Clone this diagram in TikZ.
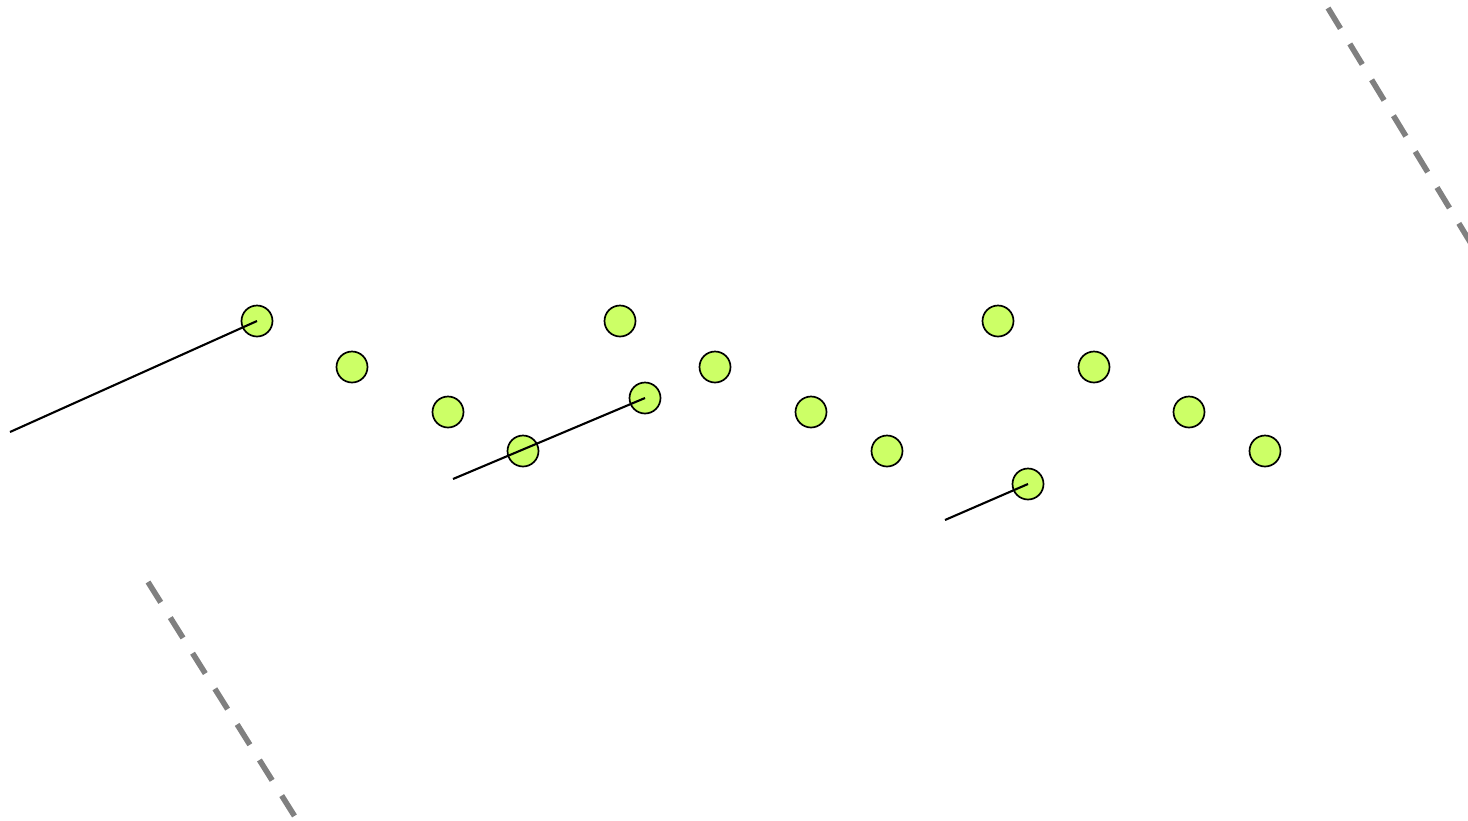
\documentclass[tikz,border=0pt]{standalone}
\definecolor{dotfill}{RGB}{204,255,102}
\definecolor{dashgray}{RGB}{128,128,128}
\begin{document}
\begin{tikzpicture}[x=0.5pt,y=-0.5pt,
  dot/.style={circle,draw=black,fill=dotfill,line width=0.85pt,minimum size=15.5pt,inner sep=0pt},
  link/.style={draw=black,line width=1.05pt},
  guide/.style={draw=dashgray,line width=2.8pt,dash pattern=on 12pt off 9pt}]
\useasboundingbox (0,0) rectangle (1468,820);
\node[dot] (a1) at (257,321) {};
\node[dot] (a2) at (352,367) {};
\node[dot] (a3) at (448,412) {};
\node[dot] (a4) at (523,451) {};
\node[dot] (b1) at (620,321) {};
\node[dot] (b2) at (715,367) {};
\node[dot] (b3) at (811,412) {};
\node[dot] (b4) at (887,451) {};
\node[dot] (c1) at (998,321) {};
\node[dot] (c2) at (1094,367) {};
\node[dot] (c3) at (1189,412) {};
\node[dot] (c4) at (1265,451) {};
\node[dot] (e1) at (645,398) {};
\node[dot] (e2) at (1028,484) {};
\coordinate (s1) at (10,432);
\coordinate (s2) at (453,479);
\coordinate (s3) at (945,520);
\draw[link] (s1) -- (a1.center);
\draw[link] (s2) -- (e1.center);
\draw[link] (s3) -- (e2.center);
\coordinate (g1) at (1328,8);
\coordinate (g2) at (1475,250);
\coordinate (g3) at (148,582);
\coordinate (g4) at (297,820);
\draw[guide] (g1) -- (g2);
\draw[guide] (g3) -- (g4);
\end{tikzpicture}
\end{document}
